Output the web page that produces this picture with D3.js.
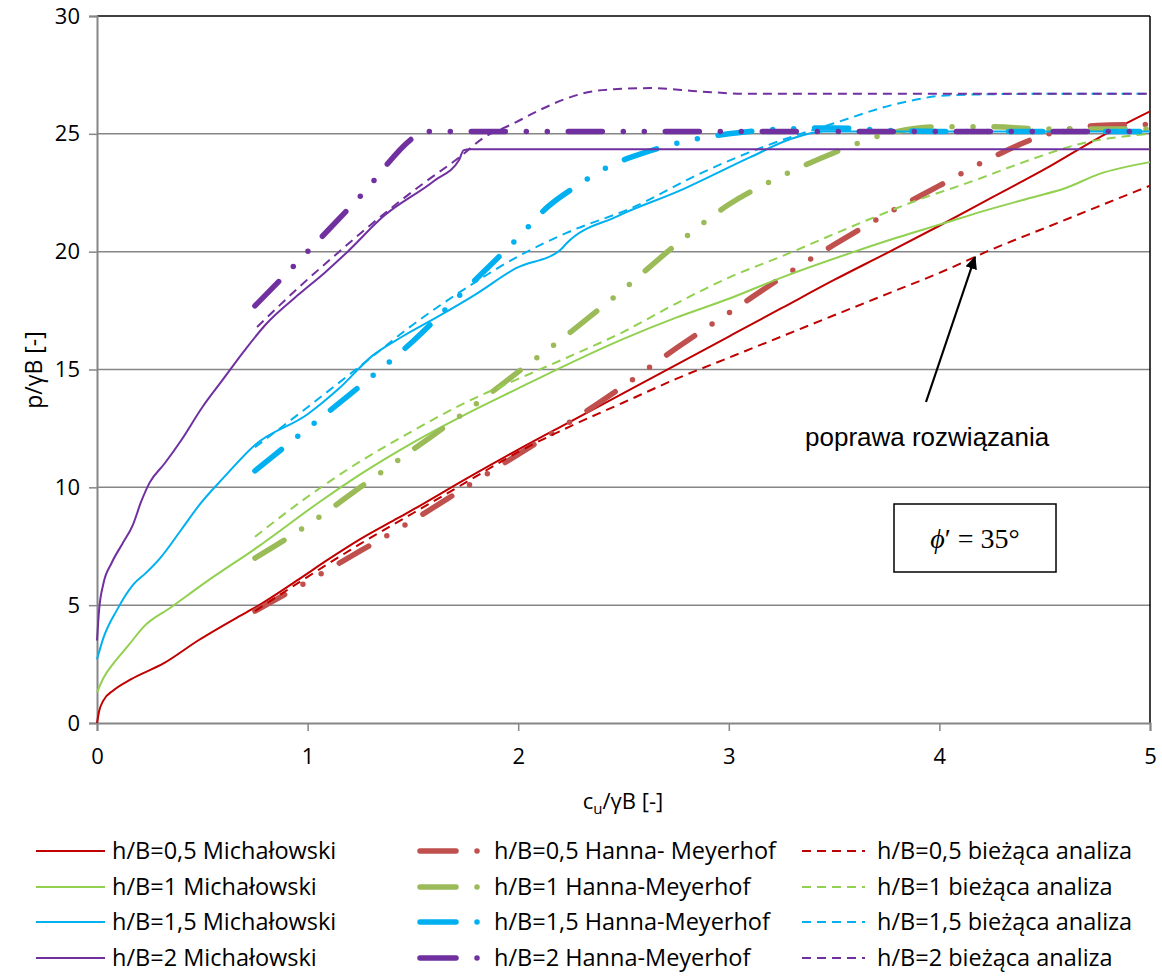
<!DOCTYPE html>
<html><head><meta charset="utf-8">
<script src="https://cdn.jsdelivr.net/npm/d3@7"></script>
<style>body{margin:0;background:#fff}svg{display:block}</style>
</head><body>
<script>
// ---- data ----
const xTicks = [0,1,2,3,4,5];
const yTicks = [0,5,10,15,20,25,30];

const mich05 = [[0,0],[0.01,0.5],[0.03,0.95],[0.08,1.4],[0.16,1.85],[0.32,2.55],[0.48,3.5],[0.67,4.5],[0.76,4.95],[0.95,6.05],[1.1,6.95],[1.25,7.8],[1.43,8.7],[1.5,9.05],[1.75,10.35],[2,11.6],[2.25,12.8],[2.5,14.0],[2.75,15.2],[3,16.4],[3.25,17.6],[3.5,18.8],[3.75,19.94],[4,21.1],[4.25,22.3],[4.5,23.5],[4.75,24.8],[5,25.95]];
const hanna05 = [[0.75,4.75],[1,6.0],[1.25,7.3],[1.5,8.6],[1.75,10.0],[2,11.4],[2.25,12.8],[2.5,14.3],[2.75,15.9],[3,17.4],[3.25,18.9],[3.5,20.3],[3.75,21.6],[4,22.8],[4.25,24.0],[4.5,24.95],[4.75,25.35],[5,25.4]];
const biez05 = [[0.75,4.75],[1,6.2],[1.25,7.6],[1.5,8.9],[1.75,10.2],[2,11.5],[2.25,12.6],[2.5,13.6],[2.75,14.6],[3,15.5],[3.25,16.4],[3.5,17.3],[3.75,18.2],[4,19.1],[4.25,20.1],[4.5,21.0],[4.75,21.9],[5,22.8]];

const mich1 = [[0,1.3],[0.03,1.9],[0.08,2.55],[0.15,3.3],[0.22,4.07],[0.35,4.9],[0.52,6.0],[0.76,7.45],[1.06,9.4],[1.25,10.55],[1.5,11.9],[1.75,13.1],[2,14.2],[2.23,15.2],[2.5,16.3],[2.75,17.2],[3,18.0],[3.25,18.9],[3.59,19.98],[3.8,20.6],[4.02,21.2],[4.2,21.7],[4.44,22.3],[4.6,22.7],[4.76,23.3],[5,23.8]];
const hanna1 = [[0.75,7.0],[1,8.4],[1.25,10.0],[1.5,11.6],[1.75,13.2],[2,14.9],[2.25,16.6],[2.5,18.4],[2.75,20.3],[3,22.0],[3.25,23.2],[3.5,24.2],[3.75,25.0],[4,25.3],[4.25,25.3],[4.5,25.2],[4.75,25.2],[5,25.2]];
const biez1 = [[0.75,7.9],[1,9.6],[1.25,11.1],[1.5,12.4],[1.75,13.6],[2,14.6],[2.23,15.5],[2.5,16.6],[2.75,17.8],[3,18.9],[3.25,19.8],[3.62,21.2],[3.9,22.2],[4.16,23.0],[4.4,23.8],[4.68,24.6],[5,25.0]];

const mich15 = [[0,2.7],[0.03,3.6],[0.095,4.8],[0.175,5.9],[0.23,6.35],[0.3,7.0],[0.4,8.2],[0.49,9.3],[0.6,10.4],[0.75,11.8],[1,13.1],[1.15,14.2],[1.31,15.6],[1.45,16.4],[1.61,17.2],[1.8,18.2],[1.99,19.3],[2.2,20.07],[2.23,20.36],[2.47,21.5],[2.77,22.6],[3.1,24.0],[3.3,24.8],[3.45,25.1],[5,25.1]];
const hanna15 = [[0.75,10.7],[1,12.5],[1.25,14.3],[1.5,16.2],[1.75,18.4],[2,20.6],[2.14,21.9],[2.28,22.8],[2.45,23.7],[2.6,24.2],[2.8,24.7],[3.0,25.0],[3.25,25.2],[3.5,25.25],[3.75,25.15],[4,25.1],[5,25.1]];
const biez15 = [[0.75,11.7],[1,13.4],[1.3,15.5],[1.5,16.9],[1.76,18.5],[2,19.8],[2.23,20.8],[2.55,21.9],[2.86,23.3],[3.18,24.5],[3.5,25.45],[3.81,26.3],[4.05,26.64],[4.5,26.7],[5,26.7]];

const mich2 = [[0,3.5],[0.01,4.8],[0.03,5.9],[0.07,6.8],[0.12,7.6],[0.17,8.4],[0.21,9.4],[0.25,10.2],[0.32,11.0],[0.4,12.0],[0.5,13.4],[0.6,14.6],[0.7,15.8],[0.8,16.9],[0.96,18.2],[1.08,19.1],[1.19,20.0],[1.36,21.5],[1.6,23.0],[1.72,23.9],[1.74,24.3],[1.77,24.35],[5,24.35]];
const hanna2 = [[0.75,17.7],[1.0,20.0],[1.25,22.35],[1.52,24.95],[1.55,25.1],[5,25.1]];
const biez2 = [[0.76,16.8],[0.96,18.5],[1.15,20.0],[1.39,21.8],[1.55,22.9],[1.72,24.0],[1.83,24.8],[1.98,25.45],[2.1,26.0],[2.23,26.5],[2.35,26.8],[2.47,26.9],[2.63,26.94],[2.86,26.8],[3.09,26.7],[5,26.7]];

const seriesNames = [
 ["h/B=0,5 Michałowski","h/B=0,5 Hanna- Meyerhof","h/B=0,5 bieżąca analiza"],
 ["h/B=1 Michałowski","h/B=1 Hanna-Meyerhof","h/B=1 bieżąca analiza"],
 ["h/B=1,5 Michałowski","h/B=1,5 Hanna-Meyerhof","h/B=1,5 bieżąca analiza"],
 ["h/B=2 Michałowski","h/B=2 Hanna-Meyerhof","h/B=2 bieżąca analiza"]
];
const solidColors = ["#C00000","#92D050","#00B0F0","#7030A0"];
const hannaColors = ["#C0504D","#9BBB59","#00B0F0","#7030A0"];
const groups = [[mich05,hanna05,biez05],[mich1,hanna1,biez1],[mich15,hanna15,biez15],[mich2,hanna2,biez2]];

// ---- layout ----
const W=1162,H=976;
const L=97,T=16,R=1150,B=723;
const svg=d3.select("body").append("svg").attr("width",W).attr("height",H);
const x=d3.scaleLinear().domain([0,5]).range([L,R]);
const y=d3.scaleLinear().domain([0,30]).range([B,T]);
const font="'Open Sans', Lato, sans-serif";
const grey="#868686";

// gridlines
svg.append("g").selectAll("line").data(yTicks.filter(v=>v>0&&v<30)).join("line")
 .attr("x1",L).attr("x2",R).attr("y1",d=>y(d)).attr("y2",d=>y(d))
 .attr("stroke",grey).attr("stroke-width",1.5);
// top/right border
svg.append("line").attr("x1",L).attr("x2",R).attr("y1",T).attr("y2",T).attr("stroke","#000").attr("stroke-width",1.5);
svg.append("line").attr("x1",R).attr("x2",R).attr("y1",T).attr("y2",B).attr("stroke","#000").attr("stroke-width",1.5);

// axes
const ax=svg.append("g").attr("transform",`translate(0,${B})`).call(d3.axisBottom(x).tickValues(xTicks).tickSize(8).tickPadding(11).tickFormat(d3.format("d")));
const ay=svg.append("g").attr("transform",`translate(${L},0)`).call(d3.axisLeft(y).tickValues(yTicks).tickSize(8).tickPadding(9).tickFormat(d3.format("d")));
[ax,ay].forEach(a=>{a.select(".domain").attr("stroke",grey).attr("stroke-width",2);
 a.selectAll(".tick line").attr("stroke",grey).attr("stroke-width",1.5);
 a.selectAll("text").attr("font-family",font).attr("font-size",22).attr("fill","#000");});
ax.selectAll(".tick text").attr("dy","1em");

// axis titles
const xt=svg.append("text").attr("x",623).attr("y",809).attr("text-anchor","middle").attr("font-family",font).attr("font-size",22);
xt.append("tspan").text("c");
xt.append("tspan").attr("dy",5).attr("font-size",15).text("u");
xt.append("tspan").attr("dy",-5).text("/γB [-]");
svg.append("text").attr("transform","translate(42,370) rotate(-90)").attr("text-anchor","middle")
 .attr("font-family",font).attr("font-size",23).text("p/γB [-]");

// series
const line=d3.line().x(d=>x(d[0])).y(d=>y(d[1])).curve(d3.curveMonotoneX);
const hannaDash="34,21,0,21,0,21";
const dashed="9,6";
const g=svg.append("g");
groups.forEach((grp,i)=>{
 g.append("path").datum(grp[0]).attr("d",line).attr("fill","none").attr("stroke",solidColors[i]).attr("stroke-width",2);
 g.append("path").datum(grp[1]).attr("d",line).attr("fill","none").attr("stroke",hannaColors[i]).attr("stroke-width",5.5)
  .attr("stroke-dasharray",hannaDash).attr("stroke-linecap","round");
 g.append("path").datum(grp[2]).attr("d",line).attr("fill","none").attr("stroke",solidColors[i]).attr("stroke-width",2)
  .attr("stroke-dasharray",dashed);
});

// annotation
svg.append("defs").append("marker").attr("id","ah").attr("viewBox","0 0 10 10").attr("refX",9).attr("refY",5)
 .attr("markerWidth",6).attr("markerHeight",6).attr("markerUnits","strokeWidth").attr("orient","auto")
 .append("path").attr("d","M0,0.5L10,5L0,9.5z").attr("fill","#000");
svg.append("line").attr("x1",926).attr("y1",402).attr("x2",975).attr("y2",257).attr("stroke","#000").attr("stroke-width",2.2).attr("marker-end","url(#ah)");
svg.append("text").attr("x",805).attr("y",446).attr("font-family","'Liberation Sans', Arial, sans-serif").attr("font-size",26).text("poprawa rozwiązania");
svg.append("rect").attr("x",894).attr("y",504).attr("width",162).attr("height",68).attr("fill","#fff").attr("stroke","#000").attr("stroke-width",1.5);
svg.append("text").attr("x",975).attr("y",548).attr("text-anchor","middle").attr("font-family","'Liberation Serif', 'DejaVu Serif', serif").attr("font-size",28)
 .html('<tspan font-style="italic">ϕ</tspan>′ = 35°');

// legend
const rowsY=[851,887,922,958];
const colX=[[36,105,112],[418,490,494],[802,865,877]];
seriesNames.forEach((row,i)=>{
 const yy=rowsY[i];
 row.forEach((name,j)=>{
  const [x1,x2,tx]=colX[j];
  const l=svg.append("line").attr("x1",x1).attr("x2",x2).attr("y1",yy).attr("y2",yy);
  if(j===0) l.attr("stroke",solidColors[i]).attr("stroke-width",2);
  if(j===1) l.attr("x1",420).attr("x2",480).attr("stroke",hannaColors[i]).attr("stroke-width",5.5).attr("stroke-dasharray","36,21,0,100").attr("stroke-linecap","round");
  if(j===2) l.attr("stroke",solidColors[i]).attr("stroke-width",2).attr("stroke-dasharray",dashed);
  svg.append("text").attr("x",tx).attr("y",yy+8).attr("font-family",font).attr("font-size",23.5).text(name);
 });
});
</script>
</body></html>
